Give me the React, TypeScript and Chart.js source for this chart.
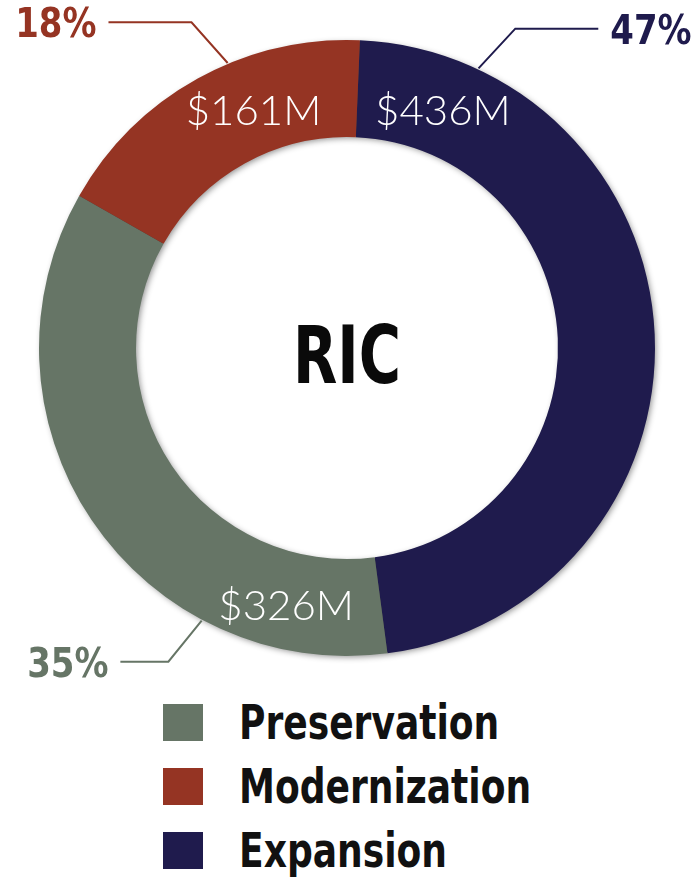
import React, { useEffect, useRef } from "react";
import { Chart, registerables } from "chart.js";

Chart.register(...registerables);

const CATEGORIES = ["Expansion", "Preservation", "Modernization"];
const VALUES = [436, 326, 161];
const VALUE_LABELS = ["$436M", "$326M", "$161M"];
const PERCENT_LABELS = ["47%", "35%", "18%"];
const COLORS = ["#1f1b4d", "#667566", "#953423"];
const LEGEND_ORDER = [1, 2, 0];
const CENTER_TEXT = "RIC";

const NARROW = '"DejaVu Sans Condensed", "DejaVu Sans", sans-serif';
const LIGHT = 'Lato, "Open Sans", sans-serif';

function drawScaled(ctx: any, text: string, x: number, y: number, align: string, sx: number) {
  ctx.save();
  ctx.translate(x, y);
  ctx.scale(sx, 1);
  ctx.textAlign = align;
  ctx.textBaseline = "alphabetic";
  ctx.fillText(text, 0, 0);
  ctx.restore();
}

const ringLabels = {
  id: "ringLabels",
  beforeDatasetsDraw(chart: any) {
    const meta = chart.getDatasetMeta(0);
    const a0 = meta.data[0];
    if (!a0) return;
    const { x, y, innerRadius, outerRadius } = a0.getProps(["x", "y", "innerRadius", "outerRadius"], true);
    const ctx = chart.ctx;
    ctx.save();
    ctx.shadowColor = "rgba(0,0,0,0.45)";
    ctx.shadowBlur = 6;
    ctx.shadowOffsetX = 2;
    ctx.shadowOffsetY = 2;
    ctx.beginPath();
    ctx.arc(x, y, outerRadius - 1, 0, Math.PI * 2);
    ctx.arc(x, y, innerRadius + 1, 0, Math.PI * 2, true);
    ctx.fillStyle = "#444";
    ctx.fill();
    ctx.restore();
  },
  afterDatasetsDraw(chart: any, _args: any, opts: any) {
    const meta = chart.getDatasetMeta(0);
    const ctx = chart.ctx;
    meta.data.forEach((arc: any, i: number) => {
      const { x, y, startAngle, endAngle, innerRadius, outerRadius } = arc.getProps(
        ["x", "y", "startAngle", "endAngle", "innerRadius", "outerRadius"],
        true
      );
      const span = endAngle - startAngle;
      const la = startAngle + span * opts.labelFrac[i];
      const lr = (innerRadius + outerRadius) / 2 + opts.labelRadiusShift[i];
      const lx = x + lr * Math.cos(la);
      const ly = y + lr * Math.sin(la);
      ctx.save();
      ctx.font = `300 42px ${LIGHT}`;
      ctx.fillStyle = "#ffffff";
      drawScaled(ctx, VALUE_LABELS[i], lx, ly + 15, "center", 1);
      ctx.restore();

      const pa = startAngle + span * opts.leaderFrac[i];
      const ea = pa + (opts.elbowShift[i] * Math.PI) / 180;
      const sx = x + (outerRadius + 1) * Math.cos(pa);
      const sy = y + (outerRadius + 1) * Math.sin(pa);
      const ex = x + opts.elbowRadius * Math.cos(ea);
      const ey = y + opts.elbowRadius * Math.sin(ea);
      const dir = ex >= x ? 1 : -1;
      const hx = ex + dir * opts.leaderLength[i];
      ctx.save();
      ctx.strokeStyle = COLORS[i];
      ctx.lineWidth = 2;
      ctx.beginPath();
      ctx.moveTo(sx, sy);
      ctx.lineTo(ex, ey);
      ctx.lineTo(hx, ey);
      ctx.stroke();
      ctx.font = `bold 41px ${NARROW}`;
      ctx.fillStyle = COLORS[i];
      drawScaled(ctx, PERCENT_LABELS[i], hx + dir * 12, ey + 15, dir > 0 ? "left" : "right", 0.92);
      ctx.restore();
    });

    const a0 = meta.data[0];
    if (a0) {
      const { x, y } = a0.getProps(["x", "y"], true);
      ctx.save();
      ctx.font = `bold 80px ${NARROW}`;
      ctx.fillStyle = "#0a0a0a";
      drawScaled(ctx, CENTER_TEXT, x, y + 35, "center", 0.8);
      ctx.restore();
    }
  },
};

export default function App() {
  const canvasRef = useRef<HTMLCanvasElement | null>(null);

  useEffect(() => {
    if (!canvasRef.current) return;
    const chart = new Chart(canvasRef.current, {
      type: "doughnut",
      data: {
        labels: CATEGORIES,
        datasets: [
          {
            data: VALUES,
            backgroundColor: COLORS,
            borderWidth: 0,
            hoverOffset: 0,
          },
        ],
      },
      options: {
        animation: false,
        responsive: false,
        maintainAspectRatio: false,
        devicePixelRatio: 1,
        rotation: 2.4,
        cutout: "68.5%",
        layout: { padding: { left: 39, right: 45, top: 40, bottom: 24 } },
        plugins: {
          legend: { display: false },
          tooltip: { enabled: false },
          ringLabels: {
            labelFrac: [0.115, 0.164, 0.62],
            labelRadiusShift: [-3, 5, -4],
            leaderFrac: [0.134, 0.28, 0.6],
            elbowShift: [2.6, 1.6, -2.8],
            elbowRadius: 361,
            leaderLength: [83, 48, 83],
          },
        } as any,
      },
      plugins: [ringLabels as any],
    });
    return () => chart.destroy();
  }, []);

  return (
    <div style={{ position: "absolute", left: 0, top: 0, width: 700, height: 877, background: "#fff" }}>
      <canvas ref={canvasRef} width={700} height={680} style={{ display: "block", width: 700, height: 680 }} />
      <div style={{ paddingTop: 10 }}>
        {LEGEND_ORDER.map((idx) => (
          <div key={idx} style={{ display: "flex", alignItems: "center", height: 64 }}>
            <div style={{ marginLeft: 163, width: 40, height: 37, background: COLORS[idx], flexShrink: 0 }} />
            <div
              style={{
                marginLeft: 36,
                fontFamily: NARROW,
                fontWeight: "bold",
                fontSize: 48,
                lineHeight: "48px",
                color: "#111",
                transform: "scaleX(0.835)",
                transformOrigin: "left center",
                whiteSpace: "nowrap",
              }}
            >
              {CATEGORIES[idx]}
            </div>
          </div>
        ))}
      </div>
    </div>
  );
}
